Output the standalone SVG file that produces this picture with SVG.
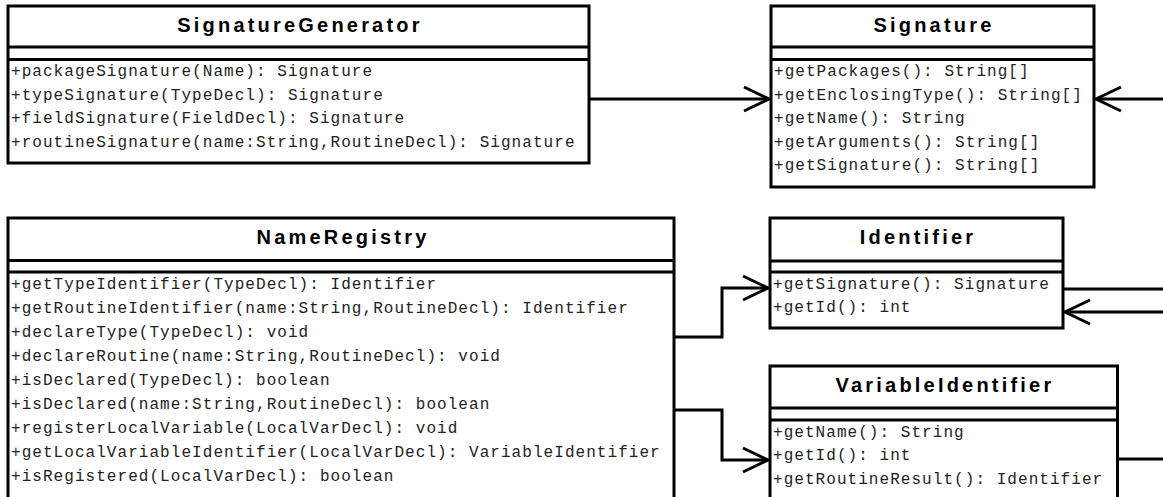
<svg xmlns="http://www.w3.org/2000/svg" width="1163" height="497" viewBox="0 0 1163 497">
<defs>
<style>
.box{fill:#fff;stroke:#000;stroke-width:3}
.div{stroke:#000;stroke-width:3}
.title{font-family:"Liberation Sans",Arial,sans-serif;font-weight:bold;font-size:20px;letter-spacing:3.2px;text-anchor:middle;fill:#000}
.m{font-family:"Liberation Mono","Courier New",monospace;font-size:16px;letter-spacing:1.05px;fill:#222}
.c{fill:none;stroke:#000;stroke-width:3}
</style>
<marker id="arr" markerUnits="userSpaceOnUse" markerWidth="30" markerHeight="30" refX="25" refY="12" orient="auto" overflow="visible">
<path d="M0,0 L25,12 L0,24" fill="none" stroke="#000" stroke-width="3"/>
</marker>
</defs>
<rect width="1163" height="497" fill="#fff"/>

<g id="connectors">
<line class="c" x1="589" y1="99" x2="769" y2="99" marker-end="url(#arr)"/>
<line class="c" x1="1163" y1="99" x2="1096" y2="99" marker-end="url(#arr)"/>
<polyline class="c" points="674,337 722,337 722,288 768,288" marker-end="url(#arr)"/>
<polyline class="c" points="674,410 722,410 722,460 768,460" marker-end="url(#arr)"/>
<line class="c" x1="1063" y1="289" x2="1163" y2="289"/>
<line class="c" x1="1163" y1="312" x2="1065" y2="312" marker-end="url(#arr)"/>
<line class="c" x1="1117" y1="459" x2="1163" y2="459"/>
</g>

<g id="SignatureGenerator">
<rect class="box" x="8" y="6" width="581" height="157"/>
<line class="div" x1="8" y1="47" x2="589" y2="47"/>
<line class="div" x1="8" y1="59.5" x2="589" y2="59.5"/>
<text class="title" x="300" y="32">SignatureGenerator</text>
<text class="m" x="11" y="76">+packageSignature(Name): Signature</text>
<text class="m" x="11" y="99.6">+typeSignature(TypeDecl): Signature</text>
<text class="m" x="11" y="123.2">+fieldSignature(FieldDecl): Signature</text>
<text class="m" x="11" y="146.8">+routineSignature(name:String,RoutineDecl): Signature</text>
</g>

<g id="Signature">
<rect class="box" x="771" y="6" width="323" height="181"/>
<line class="div" x1="771" y1="47" x2="1094" y2="47"/>
<line class="div" x1="771" y1="59.5" x2="1094" y2="59.5"/>
<text class="title" x="934" y="32">Signature</text>
<text class="m" x="774" y="76">+getPackages(): String[]</text>
<text class="m" x="774" y="99.6">+getEnclosingType(): String[]</text>
<text class="m" x="774" y="123.2">+getName(): String</text>
<text class="m" x="774" y="146.8">+getArguments(): String[]</text>
<text class="m" x="774" y="170.4">+getSignature(): String[]</text>
</g>

<g id="NameRegistry">
<rect class="box" x="8" y="218" width="666" height="282"/>
<line class="div" x1="8" y1="260.5" x2="674" y2="260.5"/>
<line class="div" x1="8" y1="272" x2="674" y2="272"/>
<text class="title" x="343" y="244">NameRegistry</text>
<text class="m" x="11" y="288.5">+getTypeIdentifier(TypeDecl): Identifier</text>
<text class="m" x="11" y="312.5">+getRoutineIdentifier(name:String,RoutineDecl): Identifier</text>
<text class="m" x="11" y="336.5">+declareType(TypeDecl): void</text>
<text class="m" x="11" y="360.5">+declareRoutine(name:String,RoutineDecl): void</text>
<text class="m" x="11" y="384.5">+isDeclared(TypeDecl): boolean</text>
<text class="m" x="11" y="408.5">+isDeclared(name:String,RoutineDecl): boolean</text>
<text class="m" x="11" y="432.5">+registerLocalVariable(LocalVarDecl): void</text>
<text class="m" x="11" y="456.5">+getLocalVariableIdentifier(LocalVarDecl): VariableIdentifier</text>
<text class="m" x="11" y="480.5">+isRegistered(LocalVarDecl): boolean</text>
</g>

<g id="Identifier">
<rect class="box" x="770" y="218" width="293" height="110"/>
<line class="div" x1="770" y1="261" x2="1063" y2="261"/>
<line class="div" x1="770" y1="272" x2="1063" y2="272"/>
<text class="title" x="918" y="244">Identifier</text>
<text class="m" x="773" y="288.5">+getSignature(): Signature</text>
<text class="m" x="773" y="312">+getId(): int</text>
</g>

<g id="VariableIdentifier">
<rect class="box" x="770" y="366" width="347.5" height="134"/>
<line class="div" x1="770" y1="408" x2="1117.5" y2="408"/>
<line class="div" x1="770" y1="420" x2="1117.5" y2="420"/>
<text class="title" x="945" y="392">VariableIdentifier</text>
<text class="m" x="773" y="436.5">+getName(): String</text>
<text class="m" x="773" y="460">+getId(): int</text>
<text class="m" x="773" y="483.6">+getRoutineResult(): Identifier</text>
</g>
</svg>
